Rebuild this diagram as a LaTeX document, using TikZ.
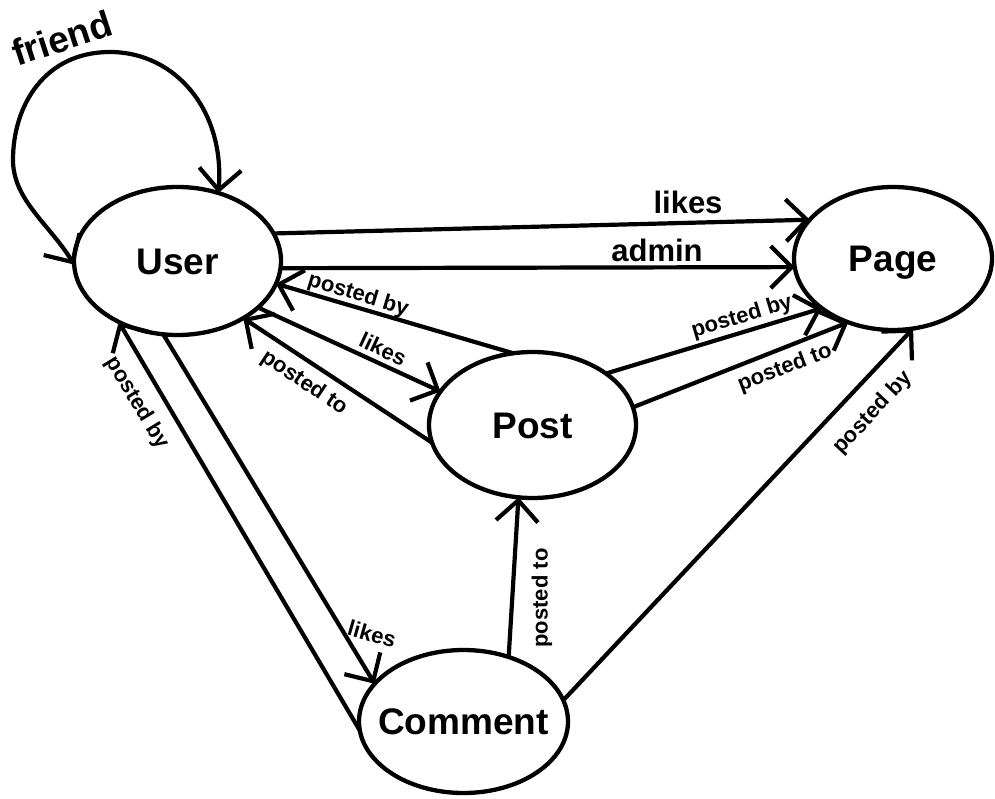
\documentclass[tikz,border=0pt]{standalone}
\usepackage{fontspec}
\setmainfont{Liberation Sans}
\usetikzlibrary{arrows.meta,shapes.geometric}

% centred label of zero width, so the ellipse size comes from minimum width/height only
\newcommand\entlabel[1]{\makebox[0pt]{#1}}

\begin{document}
\begin{tikzpicture}[x=1pt,y=-1pt,
  >={Straight Barb[length=21pt,width=42pt]},
  entity/.style={ellipse, draw, line width=4.3pt, inner sep=0pt, outer sep=0pt,
    text height=26.5pt, text depth=0pt,
    font=\fontsize{37}{37}\selectfont\bfseries},
  rel/.style={line width=4.2pt, ->},
  birel/.style={line width=4.2pt, <->},
  small/.style={font=\fontsize{22}{22}\selectfont\bfseries, inner sep=0pt},
  big/.style={font=\fontsize{31}{31}\selectfont\bfseries, inner sep=0pt},
  huge/.style={font=\fontsize{37}{37}\selectfont\bfseries, inner sep=0pt}]

\useasboundingbox (0,0) rectangle (995,799);

% entities
\node[entity, minimum width=207pt, minimum height=148pt] (user)    at (177.5,261)   {\entlabel{User}};
\node[entity, minimum width=198pt, minimum height=143pt] (page)    at (893,258.5)   {\entlabel{Page}};
\node[entity, minimum width=207pt, minimum height=146pt] (post)    at (532.5,425)   {\entlabel{Post}};
\node[entity, minimum width=209pt, minimum height=143pt] (comment) at (463.5,721.5) {\entlabel{Comment}};

% self relation
\draw[birel] (user.182) .. controls (50,225) and (13,200) .. (13,160)
                        .. controls (13,105) and (45,52) .. (110,52)
                        .. controls (175,52) and (225,110) .. (user.59);
\node[huge, rotate=18] (lfriend) at (62,38) {friend};

% user -> page
\draw[rel] (user.16) -- (page.155);
\draw[rel] (user.-4) -- (page.185);
\node[big] (lpagelikes) at (688,202) {likes};
\node[big] (lpageadmin) at (657,250) {admin};

% post <-> user
\draw[rel] (post.105) -- (user.-13);
\draw[rel] (user.-30) -- (post.160);
\draw[rel] (post.190) -- (user.-41);
\node[small, rotate=-17] (lpostby)   at (358,295) {posted by};
\node[small, rotate=-25] (lpostlike) at (383,349) {likes};
\node[small, rotate=-34] (lpostto)   at (304,383) {posted to};

% post -> page
\draw[rel] (post.35) -- (page.215);
\draw[rel] (post.10) -- (page.235);
\node[small, rotate=16.5] (lppby) at (742,317) {posted by};
\node[small, rotate=21]   (lppto) at (785,368) {posted to};

% comment relations
\draw[rel] (user.259) -- (comment.157);
\draw[rel] (comment.185) -- (user.226);
\draw[rel] (comment.55) -- (post.259);
\draw[rel] (comment.12) -- (page.-74);
\node[small, rotate=-16]   (lclike)   at (372,634) {likes};
\node[small, rotate=-58.5] (lcuby)    at (137,403) {posted by};
\node[small, rotate=90]    (lcpto)    at (542,598) {posted to};
\node[small, rotate=47]    (lcpageby) at (873,413) {posted by};

\end{tikzpicture}
\end{document}
